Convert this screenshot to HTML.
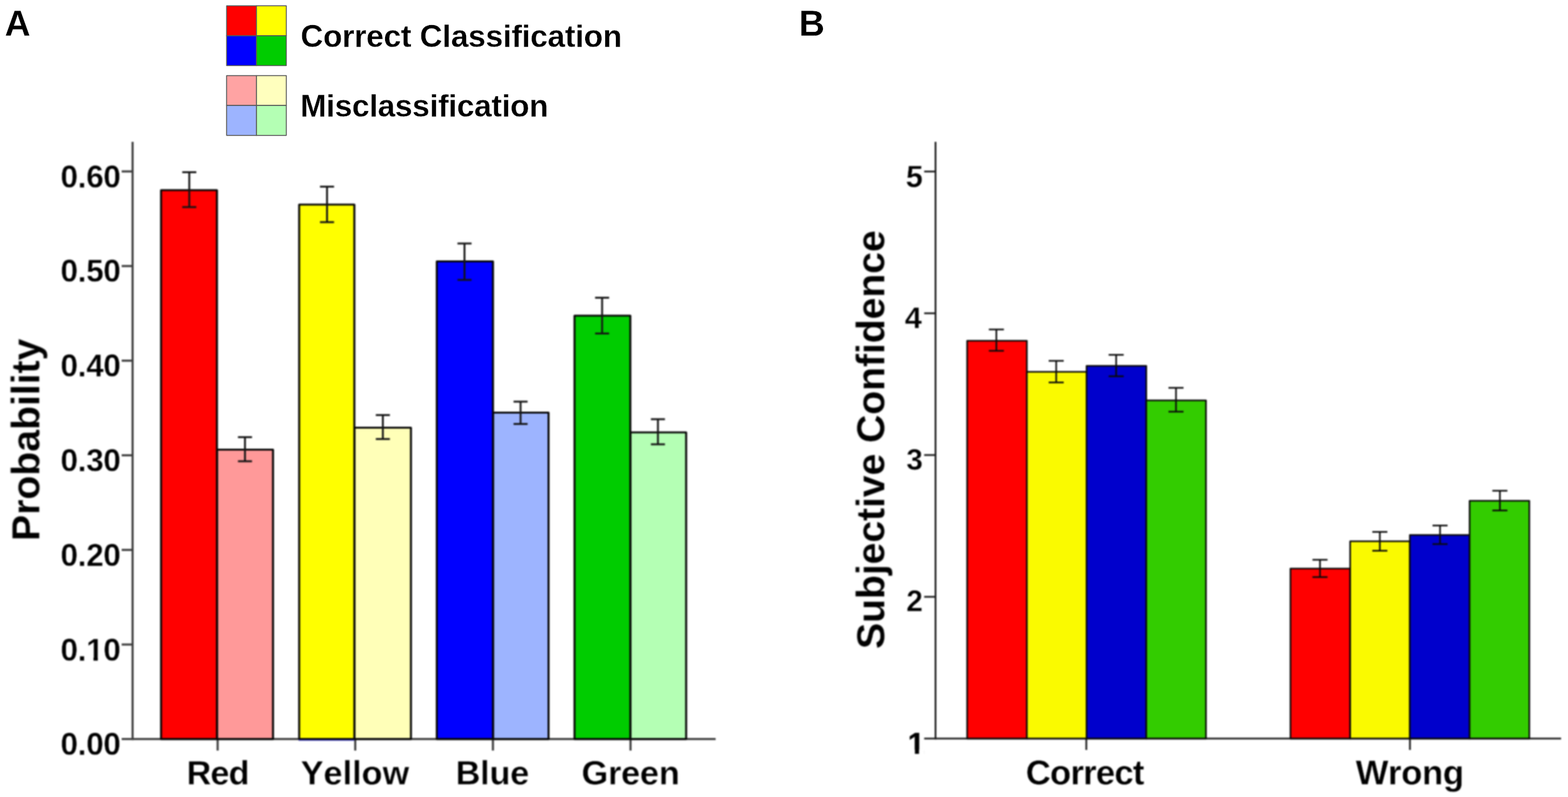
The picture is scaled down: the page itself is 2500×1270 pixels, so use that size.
<!DOCTYPE html>
<html lang="en">
<head>
<meta charset="utf-8">
<title>Classification probability and subjective confidence</title>
<style>
html, body { margin: 0; padding: 0; background: #ffffff; }
body { width: 2500px; height: 1270px; overflow: hidden; }
svg { display: block; }
text { font-family: "Liberation Sans", sans-serif; font-weight: bold; fill: #000000; font-kerning: none; stroke: #ffffff; stroke-width: 0.45px; }
.crisp text { stroke-width: 0.3px; }
text.title { stroke-width: 0.25px; }
</style>
</head>
<body>
<svg width="2500" height="1270" viewBox="0 0 2500 1270">
<rect x="0" y="0" width="2500" height="1270" fill="#ffffff"/>
<defs><filter id="soft" x="0" y="0" width="2500" height="1270" filterUnits="userSpaceOnUse" color-interpolation-filters="sRGB"><feGaussianBlur stdDeviation="1"/></filter></defs>
<defs>
<clipPath id="no1a"><rect x="-62.60" y="972.53" width="400.00" height="73.70"/><rect x="-62.60" y="1045.73" width="202.44" height="46.80"/><rect x="149.07" y="1045.73" width="6.86" height="46.80"/><rect x="164.50" y="1045.73" width="172.90" height="46.80"/></clipPath>
<clipPath id="no1b"><rect x="1247.51" y="1120.90" width="400.00" height="73.90"/><rect x="1247.51" y="1194.30" width="202.34" height="46.60"/><rect x="1458.71" y="1194.30" width="6.59" height="46.60"/><rect x="1473.53" y="1194.30" width="173.98" height="46.60"/></clipPath>
</defs>
<g id="panel-letters" class="crisp">
<text x="7.48" y="56.60" font-size="57" letter-spacing="0.000">A</text>
<text x="1273.79" y="56.60" font-size="57" letter-spacing="0.000">B</text>
</g>
<g id="legend-swatches">
<rect x="361.30" y="9.30" width="47.60" height="47.60" fill="#ff0000" stroke="#585858" stroke-width="1.5" stroke-linejoin="round"/>
<rect x="408.90" y="9.30" width="47.60" height="47.60" fill="#ffff00" stroke="#585858" stroke-width="1.5" stroke-linejoin="round"/>
<rect x="361.30" y="56.90" width="47.60" height="47.60" fill="#0000ff" stroke="#585858" stroke-width="1.5" stroke-linejoin="round"/>
<rect x="408.90" y="56.90" width="47.60" height="47.60" fill="#00cc00" stroke="#585858" stroke-width="1.5" stroke-linejoin="round"/>
<rect x="361.30" y="120.50" width="47.60" height="47.60" fill="#ffa3a3" stroke="#585858" stroke-width="1.5" stroke-linejoin="round"/>
<rect x="408.90" y="120.50" width="47.60" height="47.60" fill="#ffffbe" stroke="#585858" stroke-width="1.5" stroke-linejoin="round"/>
<rect x="361.30" y="168.10" width="47.60" height="47.60" fill="#9db4ff" stroke="#585858" stroke-width="1.5" stroke-linejoin="round"/>
<rect x="408.90" y="168.10" width="47.60" height="47.60" fill="#b4ffb4" stroke="#585858" stroke-width="1.5" stroke-linejoin="round"/>
</g>
<g id="legend-labels" class="crisp">
<text x="479.35" y="74.90" font-size="50" letter-spacing="-0.213">Correct Classification</text>
<text x="478.66" y="185.50" font-size="50" letter-spacing="-0.281">Misclassification</text>
</g>
<g id="chart-a" filter="url(#soft)">
<line x1="211.40" y1="226.00" x2="211.40" y2="1179.20" stroke="#3c3c3c" stroke-width="3.3" stroke-linecap="butt"/>
<line x1="194.00" y1="1177.60" x2="1141.00" y2="1177.60" stroke="#3c3c3c" stroke-width="3.3" stroke-linecap="butt"/>
<text x="96.42" y="1203.30" font-size="50" letter-spacing="-0.362">0.00</text>
<line x1="194.00" y1="1027.03" x2="211.40" y2="1027.03" stroke="#3c3c3c" stroke-width="3.3" stroke-linecap="butt"/>
<text x="96.42" y="1052.53" font-size="50" letter-spacing="-0.362" clip-path="url(#no1a)">0.10</text>
<line x1="194.00" y1="876.26" x2="211.40" y2="876.26" stroke="#3c3c3c" stroke-width="3.3" stroke-linecap="butt"/>
<text x="96.42" y="901.76" font-size="50" letter-spacing="-0.362">0.20</text>
<line x1="194.00" y1="725.49" x2="211.40" y2="725.49" stroke="#3c3c3c" stroke-width="3.3" stroke-linecap="butt"/>
<text x="96.42" y="750.99" font-size="50" letter-spacing="-0.362">0.30</text>
<line x1="194.00" y1="574.72" x2="211.40" y2="574.72" stroke="#3c3c3c" stroke-width="3.3" stroke-linecap="butt"/>
<text x="96.42" y="600.22" font-size="50" letter-spacing="-0.362">0.40</text>
<line x1="194.00" y1="423.95" x2="211.40" y2="423.95" stroke="#3c3c3c" stroke-width="3.3" stroke-linecap="butt"/>
<text x="96.42" y="449.45" font-size="50" letter-spacing="-0.362">0.50</text>
<line x1="194.00" y1="273.18" x2="211.40" y2="273.18" stroke="#3c3c3c" stroke-width="3.3" stroke-linecap="butt"/>
<text x="96.42" y="298.68" font-size="50" letter-spacing="-0.362">0.60</text>
<line x1="347.00" y1="1177.60" x2="347.00" y2="1196.00" stroke="#3c3c3c" stroke-width="3.3" stroke-linecap="butt"/>
<line x1="566.40" y1="1177.60" x2="566.40" y2="1196.00" stroke="#3c3c3c" stroke-width="3.3" stroke-linecap="butt"/>
<line x1="785.90" y1="1177.60" x2="785.90" y2="1196.00" stroke="#3c3c3c" stroke-width="3.3" stroke-linecap="butt"/>
<line x1="1005.30" y1="1177.60" x2="1005.30" y2="1196.00" stroke="#3c3c3c" stroke-width="3.3" stroke-linecap="butt"/>
<text x="297.55" y="1250.00" font-size="54.5" letter-spacing="-1.310">Red</text>
<text x="479.47" y="1250.00" font-size="54.5" letter-spacing="0.039">Yellow</text>
<text x="726.45" y="1250.00" font-size="54.5" letter-spacing="-0.264">Blue</text>
<text x="927.36" y="1250.00" font-size="54.5" letter-spacing="-0.299">Green</text>
<rect x="345.90" y="716.50" width="89.40" height="461.10" fill="#ff9999" stroke="#050505" stroke-width="3.2" stroke-linejoin="round"/>
<rect x="256.80" y="303.00" width="89.10" height="874.60" fill="#ff0000" stroke="#050505" stroke-width="3.2" stroke-linejoin="round"/>
<rect x="565.00" y="681.50" width="90.20" height="496.10" fill="#ffffb8" stroke="#050505" stroke-width="3.2" stroke-linejoin="round"/>
<rect x="477.00" y="326.00" width="88.00" height="851.60" fill="#ffff00" stroke="#050505" stroke-width="3.2" stroke-linejoin="round"/>
<rect x="786.00" y="657.50" width="88.60" height="520.10" fill="#9db4ff" stroke="#050505" stroke-width="3.2" stroke-linejoin="round"/>
<rect x="696.40" y="416.50" width="89.60" height="761.10" fill="#0000ff" stroke="#050505" stroke-width="3.2" stroke-linejoin="round"/>
<rect x="1005.00" y="689.00" width="89.00" height="488.60" fill="#b4ffb4" stroke="#050505" stroke-width="3.2" stroke-linejoin="round"/>
<rect x="916.00" y="503.00" width="89.00" height="674.60" fill="#00cc00" stroke="#050505" stroke-width="3.2" stroke-linejoin="round"/>
<line x1="476.00" y1="1179.40" x2="565.20" y2="1179.40" stroke="#2a2ab0" stroke-width="1.5" stroke-linecap="butt"/>
<line x1="301.80" y1="274.40" x2="301.80" y2="330.00" stroke="#141414" stroke-width="3.0" stroke-linecap="butt"/>
<line x1="290.60" y1="274.40" x2="313.00" y2="274.40" stroke="#141414" stroke-width="3.0" stroke-linecap="butt"/>
<line x1="290.60" y1="330.00" x2="313.00" y2="330.00" stroke="#141414" stroke-width="3.0" stroke-linecap="butt"/>
<line x1="390.60" y1="696.60" x2="390.60" y2="735.00" stroke="#141414" stroke-width="3.0" stroke-linecap="butt"/>
<line x1="379.40" y1="696.60" x2="401.80" y2="696.60" stroke="#141414" stroke-width="3.0" stroke-linecap="butt"/>
<line x1="379.40" y1="735.00" x2="401.80" y2="735.00" stroke="#141414" stroke-width="3.0" stroke-linecap="butt"/>
<line x1="521.40" y1="297.40" x2="521.40" y2="354.00" stroke="#141414" stroke-width="3.0" stroke-linecap="butt"/>
<line x1="510.20" y1="297.40" x2="532.60" y2="297.40" stroke="#141414" stroke-width="3.0" stroke-linecap="butt"/>
<line x1="510.20" y1="354.00" x2="532.60" y2="354.00" stroke="#141414" stroke-width="3.0" stroke-linecap="butt"/>
<line x1="610.40" y1="661.40" x2="610.40" y2="699.60" stroke="#141414" stroke-width="3.0" stroke-linecap="butt"/>
<line x1="599.20" y1="661.40" x2="621.60" y2="661.40" stroke="#141414" stroke-width="3.0" stroke-linecap="butt"/>
<line x1="599.20" y1="699.60" x2="621.60" y2="699.60" stroke="#141414" stroke-width="3.0" stroke-linecap="butt"/>
<line x1="740.60" y1="388.00" x2="740.60" y2="446.00" stroke="#141414" stroke-width="3.0" stroke-linecap="butt"/>
<line x1="729.40" y1="388.00" x2="751.80" y2="388.00" stroke="#141414" stroke-width="3.0" stroke-linecap="butt"/>
<line x1="729.40" y1="446.00" x2="751.80" y2="446.00" stroke="#141414" stroke-width="3.0" stroke-linecap="butt"/>
<line x1="830.00" y1="640.00" x2="830.00" y2="675.60" stroke="#141414" stroke-width="3.0" stroke-linecap="butt"/>
<line x1="818.80" y1="640.00" x2="841.20" y2="640.00" stroke="#141414" stroke-width="3.0" stroke-linecap="butt"/>
<line x1="818.80" y1="675.60" x2="841.20" y2="675.60" stroke="#141414" stroke-width="3.0" stroke-linecap="butt"/>
<line x1="960.00" y1="474.40" x2="960.00" y2="531.40" stroke="#141414" stroke-width="3.0" stroke-linecap="butt"/>
<line x1="948.80" y1="474.40" x2="971.20" y2="474.40" stroke="#141414" stroke-width="3.0" stroke-linecap="butt"/>
<line x1="948.80" y1="531.40" x2="971.20" y2="531.40" stroke="#141414" stroke-width="3.0" stroke-linecap="butt"/>
<line x1="1049.00" y1="668.00" x2="1049.00" y2="708.00" stroke="#141414" stroke-width="3.0" stroke-linecap="butt"/>
<line x1="1037.80" y1="668.00" x2="1060.20" y2="668.00" stroke="#141414" stroke-width="3.0" stroke-linecap="butt"/>
<line x1="1037.80" y1="708.00" x2="1060.20" y2="708.00" stroke="#141414" stroke-width="3.0" stroke-linecap="butt"/>
<text class="title" transform="translate(62.60 862.19) rotate(-90)" font-size="62.7" letter-spacing="-0.127">Probability</text>
</g>
<g id="chart-b" filter="url(#soft)">
<line x1="1491.60" y1="226.00" x2="1491.60" y2="1178.30" stroke="#1a1a1a" stroke-width="2.8" stroke-linecap="butt"/>
<line x1="1473.50" y1="1176.90" x2="2489.00" y2="1176.90" stroke="#1a1a1a" stroke-width="2.8" stroke-linecap="butt"/>
<line x1="1473.50" y1="951.00" x2="1491.60" y2="951.00" stroke="#1a1a1a" stroke-width="2.8" stroke-linecap="butt"/>
<line x1="1473.50" y1="725.10" x2="1491.60" y2="725.10" stroke="#1a1a1a" stroke-width="2.8" stroke-linecap="butt"/>
<line x1="1473.50" y1="499.20" x2="1491.60" y2="499.20" stroke="#1a1a1a" stroke-width="2.8" stroke-linecap="butt"/>
<line x1="1473.50" y1="273.30" x2="1491.60" y2="273.30" stroke="#1a1a1a" stroke-width="2.8" stroke-linecap="butt"/>
<line x1="1732.00" y1="1176.90" x2="1732.00" y2="1195.00" stroke="#1a1a1a" stroke-width="2.8" stroke-linecap="butt"/>
<line x1="2248.00" y1="1176.90" x2="2248.00" y2="1195.00" stroke="#1a1a1a" stroke-width="2.8" stroke-linecap="butt"/>
<text x="1447.51" y="1200.90" font-size="48" clip-path="url(#no1b)" style="stroke:#000000;stroke-width:0.5px">1</text>
<text x="1445.08" y="973.90" font-size="47.5">2</text>
<text x="1444.90" y="748.80" font-size="47.5">3</text>
<text x="1442.61" y="522.70" font-size="49">4</text>
<text transform="translate(1443.51 297.50) skewX(-3)" font-size="49">5</text>
<text x="1635.43" y="1249.80" font-size="55.3" letter-spacing="-1.240">Correct</text>
<text x="2161.45" y="1249.80" font-size="55.3" letter-spacing="-0.575">Wrong</text>
<rect x="1542.00" y="543.00" width="95.20" height="633.90" fill="#ff0000" stroke="#080808" stroke-width="2.6" stroke-linejoin="round"/>
<rect x="1637.20" y="592.50" width="95.20" height="584.40" fill="#fafa00" stroke="#080808" stroke-width="2.6" stroke-linejoin="round"/>
<rect x="1732.40" y="583.00" width="95.20" height="593.90" fill="#0000cc" stroke="#080808" stroke-width="2.6" stroke-linejoin="round"/>
<rect x="1827.60" y="638.00" width="95.20" height="538.90" fill="#33cc00" stroke="#080808" stroke-width="2.6" stroke-linejoin="round"/>
<rect x="2057.50" y="906.00" width="95.20" height="270.90" fill="#ff0000" stroke="#080808" stroke-width="2.6" stroke-linejoin="round"/>
<rect x="2152.70" y="862.50" width="95.20" height="314.40" fill="#fafa00" stroke="#080808" stroke-width="2.6" stroke-linejoin="round"/>
<rect x="2247.90" y="852.50" width="95.20" height="324.40" fill="#0000cc" stroke="#080808" stroke-width="2.6" stroke-linejoin="round"/>
<rect x="2343.10" y="798.00" width="95.20" height="378.90" fill="#33cc00" stroke="#080808" stroke-width="2.6" stroke-linejoin="round"/>
<line x1="1588.60" y1="525.00" x2="1588.60" y2="559.00" stroke="#0a0a0a" stroke-width="2.6" stroke-linecap="butt"/>
<line x1="1576.60" y1="525.00" x2="1600.60" y2="525.00" stroke="#0a0a0a" stroke-width="2.6" stroke-linecap="butt"/>
<line x1="1576.60" y1="559.00" x2="1600.60" y2="559.00" stroke="#0a0a0a" stroke-width="2.6" stroke-linecap="butt"/>
<line x1="1684.00" y1="575.00" x2="1684.00" y2="609.40" stroke="#0a0a0a" stroke-width="2.6" stroke-linecap="butt"/>
<line x1="1672.00" y1="575.00" x2="1696.00" y2="575.00" stroke="#0a0a0a" stroke-width="2.6" stroke-linecap="butt"/>
<line x1="1672.00" y1="609.40" x2="1696.00" y2="609.40" stroke="#0a0a0a" stroke-width="2.6" stroke-linecap="butt"/>
<line x1="1779.60" y1="565.40" x2="1779.60" y2="599.60" stroke="#0a0a0a" stroke-width="2.6" stroke-linecap="butt"/>
<line x1="1767.60" y1="565.40" x2="1791.60" y2="565.40" stroke="#0a0a0a" stroke-width="2.6" stroke-linecap="butt"/>
<line x1="1767.60" y1="599.60" x2="1791.60" y2="599.60" stroke="#0a0a0a" stroke-width="2.6" stroke-linecap="butt"/>
<line x1="1875.00" y1="618.00" x2="1875.00" y2="656.00" stroke="#0a0a0a" stroke-width="2.6" stroke-linecap="butt"/>
<line x1="1863.00" y1="618.00" x2="1887.00" y2="618.00" stroke="#0a0a0a" stroke-width="2.6" stroke-linecap="butt"/>
<line x1="1863.00" y1="656.00" x2="1887.00" y2="656.00" stroke="#0a0a0a" stroke-width="2.6" stroke-linecap="butt"/>
<line x1="2104.60" y1="892.00" x2="2104.60" y2="919.60" stroke="#0a0a0a" stroke-width="2.6" stroke-linecap="butt"/>
<line x1="2092.60" y1="892.00" x2="2116.60" y2="892.00" stroke="#0a0a0a" stroke-width="2.6" stroke-linecap="butt"/>
<line x1="2092.60" y1="919.60" x2="2116.60" y2="919.60" stroke="#0a0a0a" stroke-width="2.6" stroke-linecap="butt"/>
<line x1="2200.00" y1="847.60" x2="2200.00" y2="877.60" stroke="#0a0a0a" stroke-width="2.6" stroke-linecap="butt"/>
<line x1="2188.00" y1="847.60" x2="2212.00" y2="847.60" stroke="#0a0a0a" stroke-width="2.6" stroke-linecap="butt"/>
<line x1="2188.00" y1="877.60" x2="2212.00" y2="877.60" stroke="#0a0a0a" stroke-width="2.6" stroke-linecap="butt"/>
<line x1="2296.00" y1="837.40" x2="2296.00" y2="867.00" stroke="#0a0a0a" stroke-width="2.6" stroke-linecap="butt"/>
<line x1="2284.00" y1="837.40" x2="2308.00" y2="837.40" stroke="#0a0a0a" stroke-width="2.6" stroke-linecap="butt"/>
<line x1="2284.00" y1="867.00" x2="2308.00" y2="867.00" stroke="#0a0a0a" stroke-width="2.6" stroke-linecap="butt"/>
<line x1="2391.40" y1="782.00" x2="2391.40" y2="813.40" stroke="#0a0a0a" stroke-width="2.6" stroke-linecap="butt"/>
<line x1="2379.40" y1="782.00" x2="2403.40" y2="782.00" stroke="#0a0a0a" stroke-width="2.6" stroke-linecap="butt"/>
<line x1="2379.40" y1="813.40" x2="2403.40" y2="813.40" stroke="#0a0a0a" stroke-width="2.6" stroke-linecap="butt"/>
<text class="title" transform="translate(1409.80 1034.21) rotate(-90)" font-size="62.7" letter-spacing="-0.249">Subjective Confidence</text>
</g>
</svg>
</body>
</html>
